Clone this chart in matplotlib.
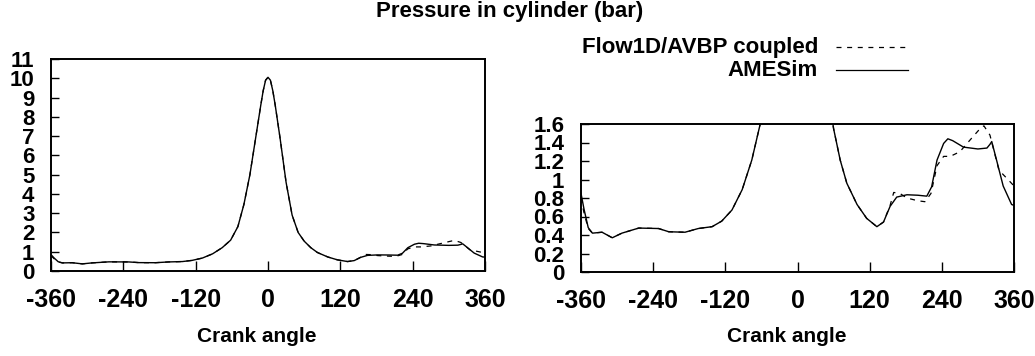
import matplotlib
matplotlib.use("Agg")
import matplotlib.pyplot as plt
from matplotlib.lines import Line2D

plt.rcParams['font.family'] = ['Liberation Sans', 'DejaVu Sans']
plt.rcParams['font.weight'] = 'bold'

# Cylinder pressure (bar) vs crank angle (deg)
amesim_angle = [-360, -355, -348, -341, -325, -308, -292, -264, -231, -214, -187,
                -165, -142, -126, -109, -92, -76, -62, -50, -40, -30, -20, -12,
                -8, -4, 0, 4, 8, 12, 20, 30, 40, 50, 60, 71, 82, 99, 115, 132, 143,
                154, 165, 182, 200, 215, 223, 232, 243, 250, 258, 276, 300, 315,
                320, 323, 331, 342, 356, 360]
amesim_p = [0.85, 0.68, 0.48, 0.42, 0.43, 0.37, 0.42, 0.475, 0.47, 0.435, 0.43,
            0.47, 0.49, 0.55, 0.67, 0.89, 1.21, 1.6, 2.3, 3.45, 5.0, 7.0, 8.6,
            9.35, 9.9, 10.05, 9.9, 9.35, 8.6, 6.9, 4.6, 2.9, 2.0, 1.55, 1.21,
            0.96, 0.73, 0.58, 0.49, 0.54, 0.71, 0.81, 0.835, 0.83, 0.82, 0.92,
            1.21, 1.39, 1.44, 1.42, 1.35, 1.33, 1.34, 1.38, 1.41, 1.21, 0.93,
            0.73, 0.72]

coupled_angle = [-360, -355, -348, -341, -325, -308, -292, -264, -231, -214, -187,
                 -165, -142, -126, -109, -92, -76, -62, -50, -40, -30, -20, -12,
                 -8, -4, 0, 4, 8, 12, 20, 30, 40, 50, 60, 71, 82, 99, 115, 132,
                 143, 154, 160, 170, 182, 200, 212, 222, 232, 243, 254, 270, 290,
                 305, 310, 320, 335, 350, 360]
coupled_p = [0.8, 0.64, 0.47, 0.42, 0.43, 0.37, 0.42, 0.475, 0.47, 0.435, 0.43,
             0.47, 0.49, 0.55, 0.67, 0.89, 1.21, 1.6, 2.3, 3.45, 5.0, 7.0, 8.6,
             9.35, 9.9, 10.05, 9.9, 9.35, 8.6, 6.9, 4.6, 2.9, 2.0, 1.55, 1.21,
             0.96, 0.73, 0.58, 0.49, 0.54, 0.72, 0.86, 0.85, 0.80, 0.77, 0.76,
             0.85, 1.15, 1.25, 1.25, 1.30, 1.45, 1.56, 1.58, 1.48, 1.10, 1.00,
             0.93]

x_ticks = [-360, -240, -120, 0, 120, 240, 360]
left_yticks = list(range(0, 12))
right_yticks = [0, 0.2, 0.4, 0.6, 0.8, 1.0, 1.2, 1.4, 1.6]
right_ylabels = ['0', '0.2', '0.4', '0.6', '0.8', '1', '1.2', '1.4', '1.6']

W, H = 1035, 356
fig = plt.figure(figsize=(W / 100, H / 100), dpi=100)


def px_axes(x0, y_top, x1, y_bot):
    return fig.add_axes([x0 / W, 1 - y_bot / H, (x1 - x0) / W, (y_bot - y_top) / H])


ax1 = px_axes(51, 59, 485, 271)
ax2 = px_axes(581, 124, 1014, 272)

dash = (0, (4.0, 4.5))
for ax in (ax1, ax2):
    ax.plot(coupled_angle, coupled_p, color='black', lw=0.9, linestyle=dash)
    ax.plot(amesim_angle, amesim_p, color='black', lw=1.0)
    ax.set_xlim(-360, 360)
    ax.set_xticks(x_ticks)
    ax.set_xticklabels([str(v) for v in x_ticks], fontsize=18, fontweight='bold')
    ax.tick_params(axis='x', direction='in', length=7, width=1.0, pad=12,
                   top=False)
    ax.tick_params(axis='y', direction='in', length=6, width=1.0, pad=12,
                   right=False)
    for s in ax.spines.values():
        s.set_linewidth(1.4)

ax1.set_ylim(0, 11)
ax1.set_yticks(left_yticks)
ax1.set_yticklabels([str(v) for v in left_yticks], fontsize=16, fontweight='bold')

ax2.set_ylim(0, 1.6)
ax2.set_yticks(right_yticks)
ax2.set_yticklabels(right_ylabels, fontsize=16, fontweight='bold')

# axis titles sit a little left of each panel's centre
for xc in (257, 787):
    fig.text(xc / W, 1 - 336 / H, 'Crank angle', ha='center', va='center',
             fontsize=15, fontweight='bold')

fig.text(510 / W, 1 - 12 / H, 'Pressure in cylinder (bar)', ha='center',
         va='center', fontsize=16, fontweight='bold')

legend_rows = [('Flow1D/AVBP coupled', dash, 47), ('AMESim', '-', 70)]
for label, style, yp in legend_rows:
    fig.text(818 / W, 1 - yp / H, label, ha='right', va='center', fontsize=16,
             fontweight='bold')
    fig.add_artist(Line2D([836 / W, 908 / W], [1 - yp / H, 1 - yp / H],
                          transform=fig.transFigure, color='black', lw=0.9,
                          linestyle=style))

fig.savefig('out.png', dpi=100)
